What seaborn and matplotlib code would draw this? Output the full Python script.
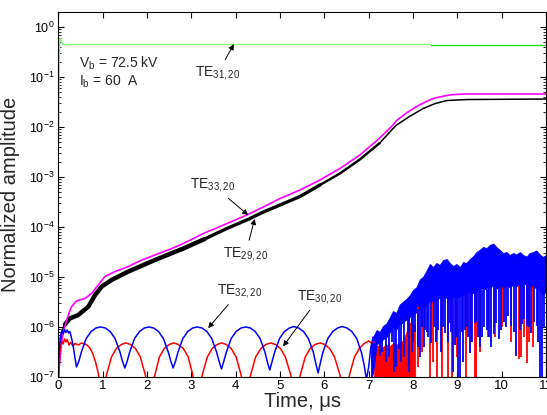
import numpy as np
import matplotlib
matplotlib.use("Agg")
import matplotlib.pyplot as plt
import matplotlib.ticker as mticker
import seaborn as sns

# values; *_exp arrays are log10 of the amplitude
green_t = [0.0, 0.01, 0.02, 0.03, 0.04, 0.06, 0.09, 0.12, 0.18, 0.3, 2.0, 4.0, 6.0, 8.4]
green_y = [2.4e-3, 0.02, 0.2, 0.5, 0.59, 0.55, 0.47, 0.45, 0.445, 0.447, 0.447, 0.447, 0.447, 0.447]
green2_t = [8.4, 11.0]
green2_y = [0.447, 0.447]

mag_t = [0.0, 0.04, 0.08, 0.13, 0.19, 0.25, 0.30, 0.41, 0.60, 0.75, 0.90, 1.05, 1.28, 1.58,
         1.88, 2.18, 2.56, 2.82, 3.27, 3.70, 4.25, 4.60, 5.00, 5.45, 5.90, 6.35, 6.80, 7.25,
         7.55, 7.63, 7.85, 8.08, 8.30, 8.45, 8.70, 8.90, 9.20, 9.51, 11.0]
mag_exp = [-7.0, -6.6, -6.26, -6.05, -5.86, -5.70, -5.59, -5.48, -5.43, -5.33, -5.16, -4.99,
           -4.89, -4.79, -4.66, -4.56, -4.43, -4.33, -4.13, -3.97, -3.76, -3.61, -3.43, -3.26,
           -3.06, -2.83, -2.56, -2.22, -1.96, -1.87, -1.72, -1.59, -1.49, -1.43, -1.38, -1.35,
           -1.34, -1.34, -1.34]

blk_t = [0.0, 0.04, 0.08, 0.15, 0.26, 0.45, 0.68, 0.83, 0.98, 1.20, 1.58, 2.18, 2.82, 3.30,
         3.80, 4.30, 4.60, 5.00, 5.45, 5.90, 6.35, 6.80, 7.25, 7.55, 7.63, 7.90, 8.23, 8.50,
         8.76, 9.21, 11.0]
blk_exp = [-7.0, -6.5, -6.08, -5.95, -5.83, -5.76, -5.59, -5.36, -5.19, -5.06, -4.89, -4.66,
           -4.43, -4.24, -4.03, -3.84, -3.71, -3.56, -3.39, -3.16, -2.93, -2.65, -2.32, -2.03,
           -1.96, -1.80, -1.63, -1.53, -1.47, -1.45, -1.44]

blue_t = [0.00, 0.02, 0.05, 0.08, 0.11, 0.14, 0.17, 0.20, 0.23, 0.26, 0.29, 0.33, 0.37,
          0.41, 0.465, 0.52, 0.63, 0.74, 0.85, 0.955, 1.06, 1.17, 1.28, 1.39, 1.445,
          1.50, 1.555, 1.61, 1.72, 1.83, 1.94, 2.045, 2.15, 2.26, 2.37, 2.48, 2.535,
          2.59, 2.645, 2.70, 2.81, 2.92, 3.03, 3.135, 3.24, 3.35, 3.46, 3.57, 3.625,
          3.68, 3.735, 3.79, 3.90, 4.01, 4.12, 4.225, 4.33, 4.44, 4.55, 4.66, 4.715,
          4.77, 4.825, 4.88, 4.99, 5.10, 5.21, 5.315, 5.42, 5.53, 5.64, 5.75, 5.805,
          5.86, 5.915, 5.97, 6.08, 6.19, 6.30, 6.405, 6.51, 6.62, 6.73, 6.84, 6.895,
          6.95, 7.00, 7.05, 7.10]
blue_exp = [-7.0, -6.46, -6.19, -6.07, -6.14, -6.05, -6.11, -6.06, -6.12, -6.09, -6.19, -6.35, -6.58,
            -6.80, -6.68, -6.50, -6.23, -6.09, -6.02, -6.00, -6.02, -6.09, -6.23, -6.50, -6.68,
            -6.82, -6.68, -6.50, -6.23, -6.09, -6.02, -6.00, -6.02, -6.09, -6.23, -6.50, -6.68,
            -6.82, -6.68, -6.50, -6.23, -6.09, -6.02, -6.00, -6.02, -6.09, -6.23, -6.50, -6.68,
            -6.84, -6.68, -6.50, -6.23, -6.09, -6.02, -6.00, -6.02, -6.09, -6.23, -6.50, -6.70,
            -6.86, -6.68, -6.50, -6.23, -6.09, -6.02, -5.99, -6.02, -6.09, -6.23, -6.50, -6.72,
            -6.92, -6.70, -6.50, -6.23, -6.09, -6.02, -5.99, -6.02, -6.09, -6.23, -6.52, -6.75,
            -7.05, -6.8, -6.4, -6.2]

red_t = [0.00, 0.02, 0.05, 0.08, 0.11, 0.14, 0.17, 0.20, 0.24, 0.28, 0.33, 0.38, 0.45, 0.52,
         0.60, 0.66, 0.72, 0.78, 0.84, 0.90, 0.94,
         0.98, 1.03, 1.09, 1.20, 1.31, 1.42, 1.525, 1.63, 1.74, 1.85, 1.96, 2.02,
         2.07, 2.12, 2.18, 2.28, 2.39, 2.50, 2.605, 2.71, 2.82, 2.93, 3.03, 3.09,
         3.14, 3.19, 3.25, 3.36, 3.47, 3.58, 3.685, 3.79, 3.90, 4.01, 4.12, 4.18,
         4.23, 4.28, 4.34, 4.45, 4.57, 4.68, 4.79, 4.90, 5.01, 5.12, 5.24, 5.30,
         5.35, 5.40, 5.46, 5.57, 5.68, 5.79, 5.905, 6.01, 6.12, 6.23, 6.35, 6.41,
         6.46, 6.51, 6.57, 6.68, 6.79, 6.90, 7.00, 7.06, 7.12]
red_exp = [-7.1, -6.6, -6.35, -6.28, -6.34, -6.24, -6.30, -6.25, -6.36, -6.31, -6.38, -6.33,
           -6.36, -6.32, -6.34, -6.37, -6.43, -6.54, -6.70, -6.92, -7.12,
           -7.4, -7.2, -6.95, -6.60, -6.43, -6.35, -6.32, -6.35, -6.43, -6.60, -6.95, -7.2,
           -7.4, -7.2, -6.95, -6.60, -6.43, -6.35, -6.32, -6.35, -6.43, -6.60, -6.95, -7.2,
           -7.4, -7.2, -6.95, -6.60, -6.43, -6.35, -6.32, -6.35, -6.43, -6.60, -6.95, -7.2,
           -7.4, -7.2, -6.95, -6.60, -6.43, -6.35, -6.32, -6.35, -6.43, -6.60, -6.95, -7.2,
           -7.4, -7.2, -6.95, -6.60, -6.43, -6.35, -6.32, -6.35, -6.43, -6.60, -6.95, -7.2,
           -7.4, -7.2, -6.95, -6.60, -6.43, -6.33, -6.28, -6.32, -6.30]

# noisy part after ~7 us: blue band (upper / lower edge) and spikes
bnoise_t = [7.05, 7.10, 7.18, 7.25, 7.32, 7.40, 7.48, 7.55, 7.62, 7.70, 7.78, 7.85, 7.93, 8.00,
            8.08, 8.15, 8.23, 8.30, 8.38, 8.45, 8.53, 8.60, 8.68, 8.76, 8.83, 8.90, 8.98, 9.06,
            9.13, 9.20, 9.28, 9.36, 9.43, 9.51, 9.58, 9.66, 9.73, 9.81, 9.88, 9.96, 10.03, 10.11,
            10.18, 10.26, 10.33, 10.41, 10.48, 10.56, 10.63, 10.71, 10.78, 10.86, 10.93, 11.0]
bnoise_hi = [-6.4, -6.2, -6.06, -6.1, -5.98, -5.93, -5.80, -5.68, -5.72, -5.55, -5.49, -5.44,
             -5.36, -5.26, -5.20, -5.05, -4.99, -4.88, -4.74, -4.80, -4.72, -4.76, -4.66, -4.64,
             -4.72, -4.78, -4.74, -4.80, -4.70, -4.72, -4.64, -4.58, -4.50, -4.45, -4.40, -4.42,
             -4.36, -4.33, -4.40, -4.46, -4.52, -4.50, -4.56, -4.52, -4.55, -4.50, -4.56, -4.59,
             -4.52, -4.50, -4.47, -4.55, -4.60, -4.56]
bnoise_lo = [-7.1, -6.9, -6.35, -6.3, -6.25, -6.2, -6.1, -6.0, -6.05, -5.95, -5.9, -5.85, -5.8,
             -5.75, -5.7, -5.65, -5.6, -5.55, -5.5, -5.52, -5.45, -5.42, -5.40, -5.42, -5.45,
             -5.40, -5.42, -5.38, -5.35, -5.36, -5.30, -5.32, -5.28, -5.25, -5.22, -5.25, -5.20,
             -5.18, -5.22, -5.20, -5.22, -5.18, -5.20, -5.16, -5.18, -5.15, -5.14, -5.14, -5.18,
             -5.20, -5.22, -5.28, -5.35, -5.3]

bspk_t = [7.25, 7.45, 7.52, 7.62, 7.68, 7.74, 7.88, 7.97, 8.05, 8.12, 8.20, 8.27, 8.34, 8.41,
          8.48, 8.57, 8.64, 8.72, 8.83, 8.90, 8.94, 9.02, 9.06, 9.10, 9.17, 9.24, 9.28, 9.39,
          9.46, 9.51, 9.60, 9.66, 9.77, 9.88, 9.99, 10.06, 10.15, 10.22, 10.33, 10.41, 10.50,
          10.56, 10.67, 10.73, 10.79, 10.86, 10.90,
          7.30, 7.38, 7.58, 7.80, 7.92, 8.01, 8.16, 8.24, 8.31, 8.52, 8.68, 8.79, 8.86, 8.98,
          9.13, 9.21, 9.34, 9.43, 9.55, 9.71, 9.82, 9.94, 10.10, 10.27, 10.45, 10.61, 10.83, 10.96]
bspk_lo = [-6.59, -6.6, -6.3, -6.8, -6.45, -6.7, -6.2, -6.5, -6.1, -6.4, -6.0, -6.06, -6.2,
           -6.33, -6.0, -6.06, -6.5, -6.13, -5.93, -6.9, -6.36, -7.1, -7.1, -6.1, -6.06, -6.2,
           -6.53, -5.93, -6.2, -6.4, -6.0, -6.06, -6.4, -5.93, -6.06, -5.9, -5.79, -5.99, -6.59,
           -6.06, -5.85, -5.99, -6.13, -5.9, -5.99, -7.1, -7.1,
           -6.5, -6.7, -6.9, -6.6, -6.9, -6.3, -6.6, -6.4, -6.1, -6.3, -6.0, -6.3, -6.1, -6.2,
           -6.7, -6.0, -6.3, -5.9, -6.2, -6.2, -6.15, -6.25, -6.0, -6.1, -5.95, -6.0, -6.3, -6.0]
bspk_hi = [-6.15, -6.1, -6.0, -5.95, -5.95, -5.9, -5.8, -5.75, -5.7, -5.65, -5.6, -5.55, -5.5,
           -5.5, -5.45, -5.4, -5.4, -5.4, -5.4, -5.4, -5.4, -5.4, -5.38, -5.35, -5.35, -5.35,
           -5.3, -5.3, -5.28, -5.25, -5.22, -5.25, -5.2, -5.2, -5.2, -5.2, -5.18, -5.18, -5.18,
           -5.15, -5.14, -5.14, -5.18, -5.2, -5.22, -5.28, -5.3,
           -6.1, -6.1, -6.0, -5.85, -5.8, -5.75, -5.65, -5.6, -5.55, -5.45, -5.4, -5.4, -5.4, -5.4,
           -5.35, -5.35, -5.3, -5.28, -5.25, -5.22, -5.2, -5.2, -5.18, -5.16, -5.15, -5.16, -5.25, -5.3]

rnoise_t = [7.12, 7.18, 7.25, 7.32, 7.40, 7.48, 7.55, 7.62, 7.70, 7.78, 7.85, 7.90, 7.95, 8.00, 8.05]
rnoise_hi = [-6.33, -6.38, -6.36, -6.40, -6.35, -6.38, -6.32, -6.36, -6.30, -6.28, -6.10, -5.95,
             -5.90, -5.93, -6.00]
rspk_t = [8.12, 8.20, 8.38, 8.45, 8.53, 8.65, 8.80, 8.87, 9.00, 9.20, 9.30, 9.39, 9.43, 9.52,
          9.70, 9.85, 10.00, 10.20, 10.38, 10.43, 10.50, 10.56, 10.62, 10.70]
rspk_lo = [-6.8, -6.5, -7.1, -6.7, -7.1, -7.1, -7.1, -7.1, -6.6, -7.0, -6.3, -7.1, -7.1, -6.5,
           -6.2, -6.2, -6.0, -6.3, -6.65, -6.6, -6.2, -6.73, -6.3, -6.4]
rspk_hi = [-5.6, -5.6, -5.5, -5.5, -5.45, -5.4, -5.4, -5.4, -5.4, -5.35, -5.3, -5.3, -5.3,
           -5.25, -5.22, -5.2, -5.2, -5.18, -5.18, -5.15, -5.14, -5.14, -5.16, -5.18]

xticks = list(range(0, 12))


def amp(e):
    return np.power(10.0, np.asarray(e, dtype=float))


sns.set_style("ticks")
plt.rcParams['font.family'] = ['Liberation Sans', 'DejaVu Sans']
plt.rcParams['mathtext.fontset'] = 'custom'
plt.rcParams['mathtext.rm'] = 'Liberation Sans'
plt.rcParams['mathtext.it'] = 'Liberation Sans:italic'
plt.rcParams['mathtext.bf'] = 'Liberation Sans:bold'

fig = plt.figure(figsize=(5.47, 4.15), dpi=100)
ax = fig.add_axes([0.1066, 0.0916, 0.8916, 0.8795])
ax.set_yscale('log')

sns.lineplot(x=green_t, y=green_y, ax=ax, color='#80f880', lw=1.0, sort=False, estimator=None)
sns.lineplot(x=green2_t, y=green2_y, ax=ax, color='#20dd20', lw=1.0, sort=False, estimator=None)

# black band: thick where the trace is a dense oscillation, thinner later
sns.lineplot(x=blk_t, y=amp(blk_exp), ax=ax, color='black', lw=1.1, sort=False, estimator=None)
sns.lineplot(x=blk_t[3:14], y=amp(blk_exp[3:14]), ax=ax, color='black', lw=3.2,
             sort=False, estimator=None)
sns.lineplot(x=blk_t[13:20], y=amp(blk_exp[13:20]), ax=ax, color='black', lw=2.4,
             sort=False, estimator=None)
sns.lineplot(x=blk_t[19:23], y=amp(blk_exp[19:23]), ax=ax, color='black', lw=1.7,
             sort=False, estimator=None)
sns.lineplot(x=mag_t, y=amp(mag_exp), ax=ax, color='#ff00ff', lw=1.2, sort=False, estimator=None)

# red
sns.lineplot(x=red_t, y=amp(red_exp), ax=ax, color='#ff0000', lw=1.1, sort=False, estimator=None)
ax.fill_between(rnoise_t, 1e-8, amp(rnoise_hi), color='#ff0000', lw=0.5)
ax.vlines(rspk_t, amp(rspk_lo), amp(rspk_hi), color='#ff0000', lw=1.3)

# blue
sns.lineplot(x=blue_t, y=amp(blue_exp), ax=ax, color='#0000ff', lw=1.1, sort=False, estimator=None)
ax.fill_between(bnoise_t, amp(bnoise_lo), amp(bnoise_hi), color='#0000ff', lw=0.6)
ax.vlines(bspk_t, amp(bspk_lo), amp(bspk_hi), color='#0000ff', lw=1.3)

ax.set_xlim(0, 11)
ax.set_ylim(1e-7, 2.0)
ax.set_xticks(xticks)
ax.yaxis.set_major_locator(mticker.LogLocator(base=10, numticks=20))
ax.yaxis.set_minor_locator(mticker.LogLocator(base=10, subs=np.arange(2, 10) * 1.0, numticks=100))
ax.yaxis.set_minor_formatter(mticker.NullFormatter())
ax.tick_params(which='both', direction='in', top=True, right=True, colors='black', pad=2.5)
ax.tick_params(axis='x', labelsize=9.5)
ax.tick_params(axis='y', labelsize=9)
ax.tick_params(which='major', length=4, width=0.8)
ax.tick_params(which='minor', length=2, width=0.6)
for s in ax.spines.values():
    s.set_color('black')
    s.set_linewidth(0.8)

ax.set_xlabel('Time, \u03bcs', fontsize=14.5, labelpad=0)
ax.set_ylabel('Normalized amplitude', fontsize=14.5)
ax.yaxis.set_label_coords(-0.078, 0.5)

ax.text(0.47, 0.19, r'V$_{\rm b}$ = 72.5 kV', fontsize=10, ha='left', va='center')
ax.text(0.47, 0.079, r'I$_{\rm b}$ = 60  A', fontsize=10, ha='left', va='center')

arr = dict(arrowstyle='-|>', color='black', lw=0.7, mutation_scale=8, shrinkA=1, shrinkB=0)
ax.annotate(r'TE$_{\rm 31,20}$', xy=(3.96, 0.455), xytext=(3.08, 0.12), fontsize=10,
            ha='left', va='center', arrowprops=arr)
ax.annotate(r'TE$_{\rm 33,20}$', xy=(4.28, 1.74e-4), xytext=(2.97, 6.9e-4), fontsize=10,
            ha='left', va='center', arrowprops=arr)
ax.annotate(r'TE$_{\rm 29,20}$', xy=(4.43, 1.45e-4), xytext=(3.71, 2.9e-5), fontsize=10,
            ha='left', va='center', arrowprops=arr)
ax.annotate(r'TE$_{\rm 32,20}$', xy=(3.38, 9.5e-7), xytext=(3.58, 5.2e-6), fontsize=10,
            ha='left', va='center', arrowprops=arr)
ax.annotate(r'TE$_{\rm 30,20}$', xy=(5.07, 4.1e-7), xytext=(5.38, 4.0e-6), fontsize=10,
            ha='left', va='center', arrowprops=arr)

fig.savefig('out.png', dpi=100)
